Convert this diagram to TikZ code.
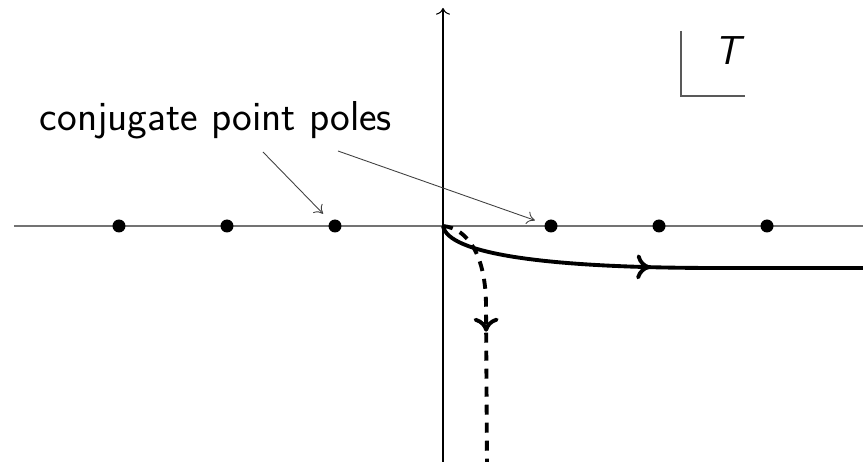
\documentclass[tikz,border=0pt]{standalone}
\usetikzlibrary{arrows.meta,decorations.markings}
\begin{document}
\begin{tikzpicture}[
  pole/.style={circle, fill=black, inner sep=0pt, minimum size=2.6mm},
  pointer/.style={draw=black!75, line width=0.5pt, -{To[length=1.6mm,width=2.6mm]}, shorten >=3.4mm},
  flow/.style={line width=2.2pt},
  flowtip/.style={postaction={decorate}, decoration={markings, mark=at position #1 with {\arrow{To[length=2.8mm,width=5mm]}}}}]
\useasboundingbox (-8.86,-4.72) rectangle (8.40,4.52);
% axes
\draw[black!55, line width=0.9pt] (-8.58,0) -- (8.40,0);
\draw[line width=0.6pt, -{To[scale=1.3]}] (0,-4.72) -- (0,4.36);
\coordinate (o) at (0,0);
% poles on the real line
\foreach \i/\x in {1/-6.48,2/-4.32,3/-2.16,4/2.16,5/4.32,6/6.48}
  \node[pole] (p\i) at (\x,0) {};
\node[font=\sffamily\fontsize{23.8}{28}\selectfont] (lbl) at (-4.54,2.12) {conjugate point poles};
\coordinate (s1) at (-3.60,1.48);
\coordinate (s2) at (-2.10,1.50);
\draw[pointer] (s1) -- (p3.center);
\draw[pointer] (s2) -- (p4.center);
% contours
\draw[flow, flowtip=4.35cm] (o) .. controls (0.1,-0.55) and (2.0,-0.84) .. (5.5,-0.84) -- (8.40,-0.84);
\draw[flow, dash pattern=on 2mm off 1.6mm, flowtip=2.5cm] (o) .. controls (0.5,-0.05) and (0.86,-0.6) .. (0.86,-1.6) -- (0.88,-4.72);
% T plane marker
\draw[black!65, line width=0.9pt] (4.76,3.9) |- (6.04,2.6);
\node[font=\sffamily\itshape\fontsize{23}{27}\selectfont] (tlbl) at (5.68,3.5) {T};
\end{tikzpicture}
\end{document}
